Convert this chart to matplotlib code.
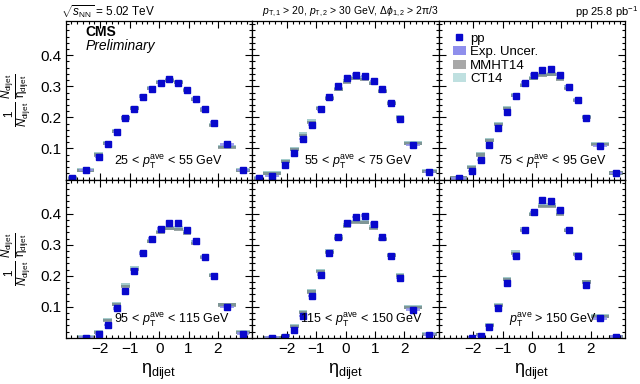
import numpy as np
import matplotlib
matplotlib.use('Agg')
import matplotlib.pyplot as plt
from matplotlib.lines import Line2D
from matplotlib.patches import Patch
from matplotlib.ticker import MultipleLocator, FixedLocator

plt.rcParams['font.family'] = ['Liberation Sans', 'DejaVu Sans']
plt.rcParams['mathtext.fontset'] = 'custom'
plt.rcParams['mathtext.rm'] = 'Liberation Sans'
plt.rcParams['mathtext.it'] = 'Liberation Sans:italic'
plt.rcParams['mathtext.bf'] = 'Liberation Sans:bold'

nan = np.nan

# eta_dijet bin edges
edges = [-3.1, -2.8, -2.2, -1.9, -1.6, -1.3, -1.0, -0.7, -0.4, -0.1,
         0.2, 0.5, 0.8, 1.1, 1.4, 1.7, 2.0, 2.6, 3.1]

bin_labels = [r'25 < $p_{\mathrm{T}}^{\mathrm{ave}}$ < 55 GeV',
              r'55 < $p_{\mathrm{T}}^{\mathrm{ave}}$ < 75 GeV',
              r'75 < $p_{\mathrm{T}}^{\mathrm{ave}}$ < 95 GeV',
              r'95 < $p_{\mathrm{T}}^{\mathrm{ave}}$ < 115 GeV',
              r'115 < $p_{\mathrm{T}}^{\mathrm{ave}}$ < 150 GeV',
              r'$p_{\mathrm{T}}^{\mathrm{ave}}$ > 150 GeV']

pp_1 = [0.004, 0.031, 0.073, 0.114, 0.153, 0.197, 0.227, 0.267, 0.293,
        0.310, 0.324, 0.310, 0.288, 0.260, 0.228, 0.183, 0.113, 0.031]
pp_2 = [0.004, 0.012, 0.047, 0.084, 0.130, 0.177, 0.226, 0.266, 0.302,
        0.327, 0.338, 0.334, 0.318, 0.290, 0.247, 0.194, 0.111, 0.024]
pp_3 = [nan, 0.004, 0.028, 0.063, 0.111, 0.166, 0.219, 0.270, 0.312,
        0.338, 0.354, 0.357, 0.338, 0.299, 0.255, 0.197, 0.108, 0.021]
pp_4 = [nan, 0.001, 0.013, 0.041, 0.095, 0.151, 0.215, 0.272, 0.320,
        0.352, 0.371, 0.371, 0.348, 0.311, 0.260, 0.200, 0.100, 0.014]
pp_5 = [nan, 0.001, 0.004, 0.026, 0.071, 0.135, 0.204, 0.272, 0.326,
        0.371, 0.390, 0.394, 0.368, 0.326, 0.265, 0.193, 0.091, 0.011]
pp_6 = [nan, nan, 0.001, 0.006, 0.036, 0.097, 0.177, 0.265, 0.348,
        0.405, 0.444, 0.440, 0.412, 0.348, 0.263, 0.170, 0.063, 0.004]

mmht_1 = [0.004, 0.030, 0.079, 0.116, 0.155, 0.198, 0.229, 0.266, 0.292,
          0.312, 0.318, 0.311, 0.288, 0.258, 0.224, 0.175, 0.104, 0.029]
mmht_2 = [0.004, 0.018, 0.058, 0.097, 0.143, 0.183, 0.228, 0.260, 0.289,
          0.313, 0.324, 0.322, 0.308, 0.283, 0.244, 0.199, 0.116, 0.026]
mmht_3 = [nan, 0.005, 0.039, 0.079, 0.125, 0.177, 0.228, 0.270, 0.302,
          0.324, 0.334, 0.337, 0.321, 0.294, 0.255, 0.201, 0.114, 0.021]
mmht_4 = [nan, 0.002, 0.018, 0.057, 0.107, 0.165, 0.221, 0.272, 0.311,
          0.339, 0.352, 0.350, 0.336, 0.305, 0.260, 0.201, 0.106, 0.017]
mmht_5 = [nan, 0.001, 0.007, 0.036, 0.082, 0.148, 0.214, 0.276, 0.321,
          0.359, 0.371, 0.371, 0.353, 0.317, 0.265, 0.201, 0.098, 0.012]
mmht_6 = [nan, nan, 0.001, 0.010, 0.041, 0.105, 0.187, 0.273, 0.347,
          0.396, 0.424, 0.424, 0.398, 0.345, 0.270, 0.180, 0.068, 0.004]

ct14_1 = [0.004, 0.031, 0.081, 0.117, 0.156, 0.200, 0.230, 0.268, 0.294,
          0.315, 0.321, 0.314, 0.290, 0.260, 0.226, 0.177, 0.106, 0.030]
ct14_2 = [0.004, 0.020, 0.059, 0.098, 0.146, 0.188, 0.230, 0.262, 0.292,
          0.317, 0.328, 0.326, 0.311, 0.286, 0.246, 0.201, 0.118, 0.027]
ct14_3 = [nan, 0.006, 0.041, 0.081, 0.128, 0.180, 0.230, 0.272, 0.305,
          0.328, 0.338, 0.340, 0.325, 0.297, 0.258, 0.203, 0.116, 0.022]
ct14_4 = [nan, 0.002, 0.020, 0.059, 0.110, 0.170, 0.224, 0.274, 0.313,
          0.343, 0.355, 0.354, 0.340, 0.308, 0.262, 0.203, 0.108, 0.018]
ct14_5 = [nan, 0.001, 0.008, 0.038, 0.085, 0.151, 0.217, 0.279, 0.325,
          0.363, 0.375, 0.374, 0.357, 0.320, 0.268, 0.203, 0.100, 0.013]
ct14_6 = [nan, nan, 0.001, 0.011, 0.043, 0.108, 0.190, 0.276, 0.350,
          0.400, 0.428, 0.428, 0.402, 0.348, 0.272, 0.182, 0.070, 0.005]

exp_unc = 0.004
mmht_unc = 0.005
ct14_unc = 0.006

pp_all = [pp_1, pp_2, pp_3, pp_4, pp_5, pp_6]
mmht_all = [mmht_1, mmht_2, mmht_3, mmht_4, mmht_5, mmht_6]
ct14_all = [ct14_1, ct14_2, ct14_3, ct14_4, ct14_5, ct14_6]

c_pp = '#0808cc'
c_exp = '#8f8fec'
c_mmht = '#6f7f7f'
c_ct14 = '#9fcaca'

e = np.array(edges)
centers = 0.5 * (e[1:] + e[:-1])
widths = e[1:] - e[:-1]

fig, axes = plt.subplots(2, 3, figsize=(6.4, 3.84), dpi=100, sharex=True, sharey=True)
fig.subplots_adjust(left=0.103, right=0.977, top=0.945, bottom=0.12, wspace=0, hspace=0)

label_x = [0.547, 0.566, 0.611, 0.568, 0.582, 0.611]

for i, ax in enumerate(axes.flat):
    pp = np.array(pp_all[i])
    mm = np.array(mmht_all[i])
    ct = np.array(ct14_all[i])
    ax.bar(centers, 2 * ct14_unc, width=widths, bottom=ct - ct14_unc,
           color=c_ct14, alpha=0.95, linewidth=0)
    ax.bar(centers, 2 * mmht_unc, width=widths, bottom=mm - mmht_unc,
           color=c_mmht, alpha=0.7, linewidth=0)
    ax.bar(centers, 2 * exp_unc, width=widths * 0.8, bottom=pp - exp_unc,
           color=c_exp, alpha=0.85, linewidth=0)
    ax.plot(centers, pp, 's', color=c_pp, markersize=4, linestyle='none')

    ax.set_xlim(-3.17, 3.17)
    ax.set_ylim(0, 0.51)
    ax.xaxis.set_major_locator(FixedLocator([-2, -1, 0, 1, 2]))
    ax.xaxis.set_minor_locator(MultipleLocator(0.2))
    ax.yaxis.set_major_locator(FixedLocator([0.1, 0.2, 0.3, 0.4]))
    ax.yaxis.set_minor_locator(MultipleLocator(0.02))
    ax.tick_params(which='both', direction='in', top=True, right=True,
                   labelsize=11, width=0.8)
    ax.tick_params(which='major', length=5)
    ax.tick_params(which='minor', length=2.5)
    ax.tick_params(axis='x', pad=3)
    for s in ax.spines.values():
        s.set_linewidth(0.9)
    ax.text(label_x[i], 0.11, bin_labels[i], transform=ax.transAxes,
            ha='center', va='center', fontsize=9)

ylab = r'$\frac{1}{N_{\mathrm{dijet}}}\,\frac{N_{\mathrm{dijet}}}{\mathrm{η}_{\mathrm{dijet}}}$'
for ax in axes[:, 0]:
    ax.set_ylabel(ylab, fontsize=12)
    ax.yaxis.set_label_coords(-0.17, 0.5)
for ax in axes[1, :]:
    ax.set_xlabel(r'$\mathrm{η}_{\mathrm{dijet}}$', fontsize=13)
    ax.xaxis.set_label_coords(0.5, -0.15)

axes[0, 0].text(0.107, 0.93, 'CMS', transform=axes[0, 0].transAxes,
                fontsize=10, fontweight='bold', va='center')
axes[0, 0].text(0.107, 0.845, 'Preliminary', transform=axes[0, 0].transAxes,
                fontsize=10, fontstyle='italic', va='center')

handles = [Line2D([], [], marker='s', color=c_pp, linestyle='none', markersize=4),
           Patch(facecolor=c_exp, edgecolor='none'),
           Patch(facecolor='#a8a8a8', edgecolor='none'),
           Patch(facecolor='#bfe0e0', edgecolor='none')]
axes[0, 2].legend(handles, ['pp', 'Exp. Uncer.', 'MMHT14', 'CT14'],
                  loc='upper left', bbox_to_anchor=(0.04, 0.97), frameon=False,
                  fontsize=9.5, handlelength=1.0, handleheight=0.7,
                  handletextpad=0.3, labelspacing=0.1, borderpad=0)

fig.text(0.095, 0.969, r'$\sqrt{s_{\mathrm{NN}}}$ = 5.02 TeV', fontsize=8.5, va='center')
fig.text(0.548, 0.969, r'$p_{\mathrm{T,1}}$ > 20, $p_{\mathrm{T,2}}$ > 30 GeV, '
         r'$\Delta\phi_{1,2}$ > 2π/3', fontsize=7.5, ha='center', va='center')
fig.text(0.997, 0.969, r'pp 25.8 pb$^{-1}$', fontsize=8, ha='right', va='center')

fig.savefig('out.png', dpi=100)
